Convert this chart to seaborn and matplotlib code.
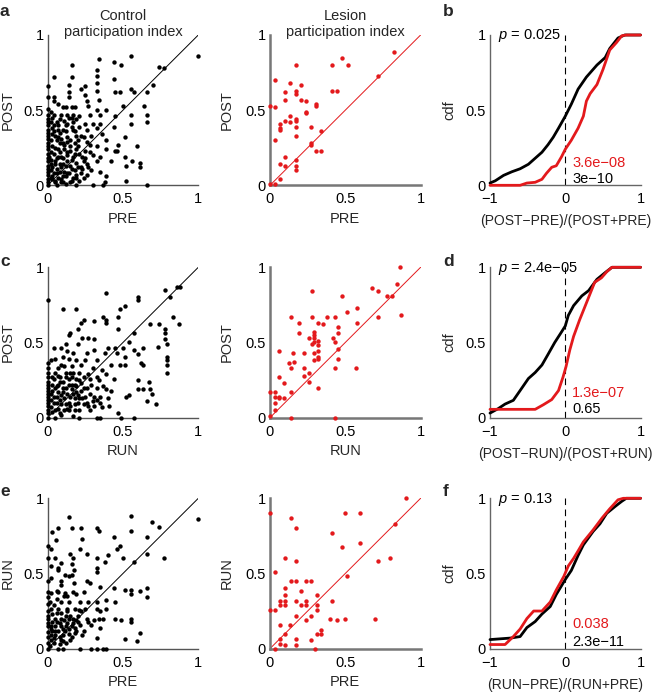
import numpy as np
import pandas as pd
import matplotlib
matplotlib.use("Agg")
import matplotlib.pyplot as plt
import seaborn as sns

# ---------------- data ----------------
# Row 1: PRE (x) vs POST (y)
ctrl_pre_post = [
    (1.00,0.86),(0.55,0.86),(0.34,0.84),(0.44,0.82),(0.49,0.80),(0.16,0.80),(0.74,0.79),(0.77,0.78),
    (0.33,0.77),(0.04,0.72),(0.16,0.72),(0.33,0.73),(0.44,0.71),(0.00,0.66),(0.14,0.67),(0.33,0.68),
    (0.70,0.67),(0.25,0.66),(0.22,0.64),(0.33,0.63),(0.45,0.62),(0.48,0.62),(0.55,0.64),(0.66,0.62),
    (0.14,0.62),(0.14,0.59),(0.04,0.59),(0.00,0.59),(0.57,0.62),(0.25,0.60),(0.04,0.56),(0.07,0.54),
    (0.26,0.56),(0.27,0.53),(0.34,0.57),(0.50,0.53),(0.64,0.53),(0.10,0.52),(0.00,0.51),(0.33,0.50),
    (0.55,0.47),(0.66,0.47),(0.66,0.42),(0.04,0.47),(0.12,0.52),(0.16,0.52),(0.18,0.52),(0.13,0.47),
    (0.17,0.47),(0.19,0.44),(0.08,0.44),(0.09,0.47),(0.21,0.46),(0.28,0.47),(0.35,0.47),(0.39,0.50),
    (0.45,0.46),(0.25,0.41),(0.30,0.41),(0.35,0.41),(0.55,0.41),(0.00,0.44),(0.00,0.40),(0.04,0.40),
    (0.07,0.40),(0.13,0.41),(0.16,0.39),(0.21,0.39),(0.10,0.37),(0.04,0.36),(0.18,0.36),(0.26,0.37),
    (0.33,0.38),(0.44,0.39),(0.36,0.34),(0.29,0.33),(0.24,0.32),(0.13,0.32),(0.07,0.32),(0.00,0.33),
    (0.51,0.32),(0.20,0.30),(0.26,0.29),(0.39,0.30),(0.10,0.28),(0.15,0.26),(0.00,0.28),(0.03,0.26),
    (0.07,0.24),(0.19,0.24),(0.33,0.26),(0.39,0.24),(0.59,0.26),(0.47,0.27),(0.45,0.23),(0.46,0.23),
    (0.28,0.22),(0.21,0.21),(0.13,0.22),(0.04,0.21),(0.00,0.21),(0.09,0.19),(0.17,0.19),(0.25,0.18),
    (0.35,0.19),(0.51,0.19),(0.42,0.16),(0.33,0.16),(0.26,0.14),(0.19,0.15),(0.13,0.16),(0.05,0.16),
    (0.00,0.16),(0.56,0.16),(0.61,0.15),(0.61,0.12),(0.52,0.13),(0.35,0.09),(0.29,0.10),(0.23,0.11),
    (0.16,0.11),(0.09,0.12),(0.03,0.12),(0.00,0.11),(0.06,0.08),(0.13,0.08),(0.19,0.07),(0.26,0.07),
    (0.39,0.06),(0.00,0.07),(0.03,0.06),(0.09,0.04),(0.16,0.03),(0.21,0.03),(0.52,0.03),(0.38,0.02),
    (0.00,0.02),(0.05,0.02),(0.12,0.01),(0.19,0.00),(0.30,0.00),(0.37,0.00),(0.66,0.00),(0.06,0.00),
    (0.00,0.00),(0.02,0.30),(0.05,0.33),(0.08,0.28),(0.11,0.24),(0.13,0.20),(0.06,0.18),(0.02,0.14),
    (0.10,0.14),(0.15,0.13),(0.18,0.10),(0.08,0.09),(0.04,0.08),(0.12,0.06),(0.07,0.05),(0.03,0.04),
    (0.17,0.05),(0.10,0.02),(0.22,0.12),(0.24,0.16),(0.20,0.26),(0.12,0.36),(0.06,0.42),(0.02,0.49),
    (0.00,0.37),(0.00,0.24),(0.01,0.19),(0.00,0.09),(0.00,0.13),(0.14,0.45),(0.17,0.42),(0.11,0.43),
    (0.08,0.35),(0.03,0.38),(0.15,0.30),(0.18,0.28),
    (0.00,0.04),(0.00,0.18),(0.00,0.26),(0.00,0.31),(0.00,0.35),(0.00,0.42),(0.00,0.47),
    (0.02,0.05),(0.02,0.10),(0.02,0.17),(0.02,0.22),(0.03,0.34),(0.02,0.42),(0.03,0.45),
    (0.05,0.03),(0.06,0.11),(0.05,0.14),(0.07,0.19),(0.05,0.25),(0.08,0.22),(0.06,0.30),(0.07,0.37),
    (0.08,0.14),(0.09,0.02),(0.11,0.09),(0.10,0.18),(0.12,0.13),(0.11,0.27),(0.09,0.31),(0.12,0.40),
    (0.10,0.06),(0.13,0.29),(0.15,0.02),(0.14,0.08),(0.16,0.17),(0.18,0.21),(0.15,0.23),(0.19,0.33),
    (0.17,0.37),(0.20,0.12),(0.19,0.05),(0.16,0.45),(0.22,0.08),(0.24,0.05),(0.23,0.19),(0.27,0.12),
    (0.28,0.27),(0.22,0.33),(0.30,0.20),(0.25,0.23),
]
les_pre_post = [
    (0.825,0.89),(0.48,0.85),(0.41,0.80),(0.52,0.80),(0.17,0.80),(0.72,0.73),(0.03,0.70),(0.135,0.68),
    (0.205,0.67),(0.17,0.63),(0.10,0.62),(0.41,0.63),(0.445,0.63),(0.17,0.61),(0.10,0.57),(0.205,0.57),
    (0.24,0.56),(0.305,0.54),(0.305,0.53),(0.0,0.53),(0.03,0.52),(0.24,0.49),(0.24,0.48),(0.135,0.46),
    (0.10,0.43),(0.17,0.44),(0.17,0.43),(0.135,0.42),(0.065,0.41),(0.065,0.38),(0.065,0.37),(0.17,0.39),
    (0.27,0.39),(0.34,0.36),(0.17,0.33),(0.03,0.30),(0.27,0.28),(0.27,0.27),(0.305,0.23),(0.34,0.23),
    (0.10,0.19),(0.17,0.17),(0.065,0.14),(0.10,0.13),(0.17,0.13),(0.17,0.10),(0.065,0.04),(0.0,0.01),
    (0.03,0.01),
]
# Row 2: RUN (x) vs POST (y)
ctrl_run_post = [
    (0.88,0.87),(0.86,0.87),(0.78,0.85),(0.81,0.80),(0.39,0.83),(0.60,0.80),(0.60,0.78),(0.00,0.78),
    (0.10,0.72),(0.19,0.72),(0.51,0.74),(0.48,0.72),(0.47,0.67),(0.37,0.67),(0.24,0.65),(0.22,0.63),
    (0.31,0.64),(0.39,0.65),(0.39,0.63),(0.83,0.67),(0.68,0.62),(0.74,0.62),(0.87,0.62),(0.78,0.59),
    (0.47,0.59),(0.20,0.59),(0.15,0.56),(0.14,0.55),(0.27,0.53),(0.57,0.56),(0.78,0.56),(0.78,0.52),
    (0.31,0.52),(0.12,0.49),(0.20,0.49),(0.23,0.53),(0.54,0.50),(0.79,0.49),(0.09,0.46),(0.04,0.46),
    (0.40,0.46),(0.45,0.46),(0.50,0.46),(0.63,0.46),(0.73,0.47),(0.57,0.45),(0.13,0.44),(0.17,0.43),
    (0.26,0.43),(0.31,0.45),(0.38,0.43),(0.46,0.43),(0.51,0.40),(0.60,0.42),(0.79,0.40),(0.79,0.38),
    (0.79,0.35),(0.79,0.30),(0.62,0.36),(0.63,0.35),(0.48,0.35),(0.51,0.35),(0.42,0.35),(0.02,0.38),
    (0.05,0.39),(0.19,0.38),(0.25,0.38),(0.33,0.38),(0.09,0.35),(0.16,0.34),(0.30,0.33),(0.36,0.32),
    (0.05,0.30),(0.12,0.30),(0.21,0.30),(0.27,0.29),(0.39,0.29),(0.00,0.30),(0.04,0.26),(0.08,0.27),
    (0.14,0.26),(0.19,0.26),(0.28,0.26),(0.34,0.25),(0.44,0.26),(0.60,0.25),(0.67,0.24),(0.00,0.24),
    (0.07,0.22),(0.16,0.22),(0.24,0.20),(0.33,0.20),(0.39,0.19),(0.60,0.19),(0.63,0.19),(0.68,0.19),
    (0.03,0.18),(0.10,0.17),(0.19,0.17),(0.28,0.16),(0.42,0.18),(0.69,0.16),(0.00,0.16),(0.06,0.14),
    (0.15,0.14),(0.21,0.13),(0.35,0.14),(0.54,0.15),(0.52,0.14),(0.66,0.11),(0.72,0.09),(0.04,0.10),
    (0.12,0.09),(0.18,0.09),(0.26,0.10),(0.31,0.08),(0.41,0.08),(0.00,0.08),(0.07,0.06),(0.14,0.05),
    (0.21,0.05),(0.28,0.05),(0.47,0.03),(0.03,0.04),(0.00,0.03),(0.09,0.02),(0.17,0.01),(0.33,0.00),
    (0.35,0.00),(0.49,0.00),(0.57,0.00),(0.21,0.00),(0.05,0.00),(0.00,0.00),(0.02,0.12),(0.05,0.20),
    (0.08,0.12),(0.10,0.24),(0.12,0.20),(0.14,0.10),(0.16,0.19),(0.18,0.22),(0.20,0.15),(0.22,0.23),
    (0.24,0.09),(0.26,0.20),(0.11,0.34),(0.07,0.28),(0.00,0.20),(0.00,0.12),(0.00,0.36),(0.13,0.06),
    (0.09,0.15),(0.15,0.30),(0.18,0.13),(0.03,0.22),(0.22,0.35),(0.30,0.11),(0.33,0.12),(0.37,0.21),
    (0.36,0.07),(0.40,0.13),
    (0.00,0.05),(0.00,0.10),(0.00,0.14),(0.00,0.18),(0.00,0.22),(0.00,0.27),(0.00,0.33),(0.02,0.07),
    (0.02,0.16),(0.03,0.27),(0.04,0.14),(0.05,0.05),(0.06,0.10),(0.06,0.21),(0.07,0.17),(0.08,0.03),
    (0.08,0.24),(0.09,0.09),(0.10,0.20),(0.11,0.13),(0.11,0.05),(0.12,0.27),(0.13,0.16),(0.14,0.22),
    (0.15,0.08),(0.16,0.27),(0.17,0.16),(0.18,0.05),(0.19,0.21),(0.20,0.10),(0.21,0.25),(0.22,0.18),
    (0.23,0.13),(0.24,0.27),(0.25,0.14),(0.27,0.08),(0.29,0.22),(0.31,0.14),(0.33,0.27),(0.35,0.10),
    (0.14,0.39),(0.10,0.40),(0.17,0.30),(0.07,0.33),
]
les_run_post = [
    (0.86,1.00),(0.84,0.89),(0.68,0.86),(0.715,0.84),(0.28,0.84),(0.48,0.81),(0.775,0.81),(0.81,0.81),
    (0.51,0.70),(0.58,0.73),(0.14,0.67),(0.28,0.67),(0.38,0.67),(0.43,0.67),(0.715,0.67),(0.87,0.68),
    (0.19,0.63),(0.32,0.63),(0.355,0.62),(0.58,0.63),(0.45,0.60),(0.19,0.56),(0.29,0.57),(0.29,0.55),
    (0.45,0.56),(0.26,0.53),(0.42,0.53),(0.29,0.53),(0.29,0.50),(0.28,0.49),(0.32,0.51),(0.43,0.50),
    (0.32,0.48),(0.06,0.44),(0.155,0.43),(0.225,0.43),(0.29,0.43),(0.32,0.44),(0.45,0.455),(0.16,0.37),
    (0.125,0.36),(0.32,0.40),(0.32,0.39),(0.29,0.38),(0.45,0.39),(0.14,0.33),(0.225,0.33),(0.43,0.33),
    (0.57,0.33),(0.225,0.28),(0.26,0.30),(0.26,0.24),(0.06,0.27),(0.095,0.23),(0.32,0.20),(0.0,0.17),
    (0.03,0.17),(0.14,0.17),(0.03,0.135),(0.06,0.14),(0.06,0.13),(0.095,0.13),(0.03,0.10),(0.03,0.05),
    (0.0,0.01),(0.14,0.0),(0.43,0.0),
]
# Row 3: PRE (x) vs RUN (y)
ctrl_pre_run = [
    (1.00,0.86),(0.55,0.885),(0.14,0.875),(0.695,0.84),(0.74,0.81),(0.07,0.80),(0.16,0.80),(0.22,0.80),
    (0.33,0.80),(0.34,0.78),(0.55,0.785),(0.03,0.775),(0.44,0.745),(0.66,0.74),(0.055,0.72),(0.225,0.73),
    (0.0,0.685),(0.48,0.685),(0.025,0.66),(0.215,0.66),(0.46,0.66),(0.15,0.63),(0.26,0.63),(0.40,0.625),
    (0.66,0.63),(0.0,0.60),(0.05,0.60),(0.17,0.60),(0.33,0.60),(0.50,0.60),(0.77,0.60),(0.09,0.57),
    (0.16,0.56),(0.38,0.575),(0.57,0.575),(0.07,0.535),(0.07,0.525),(0.175,0.525),(0.33,0.535),(0.33,0.51),
    (0.115,0.49),(0.14,0.48),(0.16,0.49),(0.025,0.47),(0.26,0.45),(0.28,0.435),(0.09,0.45),(0.175,0.435),
    (0.35,0.41),(0.44,0.40),(0.55,0.39),(0.51,0.39),(0.61,0.38),(0.66,0.40),(0.66,0.34),(0.55,0.36),
    (0.0,0.375),(0.025,0.37),(0.07,0.375),(0.115,0.37),(0.17,0.375),(0.24,0.375),(0.015,0.31),(0.09,0.31),
    (0.14,0.31),(0.215,0.31),(0.27,0.31),(0.33,0.31),(0.39,0.325),(0.45,0.31),(0.025,0.265),(0.07,0.265),
    (0.125,0.265),(0.18,0.265),(0.25,0.265),(0.33,0.265),(0.35,0.25),(0.39,0.265),(0.0,0.20),(0.05,0.20),
    (0.09,0.20),(0.14,0.20),(0.19,0.19),(0.26,0.20),(0.31,0.19),(0.37,0.20),(0.45,0.20),(0.49,0.19),
    (0.55,0.20),(0.55,0.18),(0.0,0.15),(0.025,0.15),(0.09,0.15),(0.16,0.15),(0.215,0.155),(0.29,0.155),
    (0.35,0.14),(0.05,0.115),(0.115,0.115),(0.18,0.105),(0.24,0.12),(0.33,0.07),(0.61,0.105),(0.51,0.065),
    (0.595,0.05),(0.0,0.08),(0.04,0.07),(0.09,0.06),(0.15,0.06),(0.015,0.02),(0.07,0.0),(0.10,0.0),
    (0.215,0.0),(0.29,0.0),(0.33,0.0),(0.37,0.0),(0.39,0.0),(0.0,0.0),(0.03,0.12),(0.06,0.18),
    (0.10,0.13),(0.12,0.22),(0.08,0.08),(0.04,0.04),(0.13,0.17),(0.17,0.20),(0.20,0.22),(0.22,0.25),
    (0.11,0.35),(0.06,0.33),(0.0,0.25),(0.0,0.30),(0.02,0.09),(0.14,0.10),(0.18,0.14),(0.10,0.05),
    (0.27,0.18),(0.23,0.09),(0.34,0.20),
    (0.0,0.04),(0.0,0.11),(0.0,0.17),(0.0,0.22),(0.0,0.34),(0.0,0.45),(0.02,0.06),(0.02,0.13),
    (0.03,0.18),(0.03,0.23),(0.04,0.29),(0.05,0.09),(0.05,0.15),(0.06,0.24),(0.07,0.12),(0.08,0.03),
    (0.08,0.17),(0.09,0.24),(0.10,0.09),(0.11,0.19),(0.12,0.15),(0.12,0.04),(0.13,0.25),(0.14,0.13),
    (0.15,0.22),(0.16,0.08),(0.17,0.17),(0.19,0.12),(0.20,0.18),(0.21,0.26),(0.06,0.38),(0.09,0.42),
    (0.13,0.35),(0.19,0.36),(0.02,0.55),
]
les_pre_run = [
    (0.90,1.00),(0.0,0.90),(0.50,0.90),(0.60,0.90),(0.14,0.87),(0.83,0.83),(0.17,0.805),(0.41,0.77),
    (0.48,0.675),(0.60,0.70),(0.10,0.60),(0.80,0.60),(0.72,0.58),(0.17,0.58),(0.03,0.51),(0.51,0.48),
    (0.14,0.45),(0.17,0.45),(0.24,0.45),(0.27,0.45),(0.10,0.40),(0.205,0.385),(0.31,0.355),(0.10,0.355),
    (0.10,0.32),(0.065,0.32),(0.17,0.32),(0.24,0.32),(0.41,0.32),(0.065,0.29),(0.10,0.29),(0.205,0.29),
    (0.24,0.29),(0.31,0.29),(0.0,0.26),(0.03,0.26),(0.31,0.255),(0.17,0.22),(0.27,0.22),(0.24,0.19),
    (0.40,0.195),(0.445,0.19),(0.50,0.195),(0.70,0.195),(0.065,0.16),(0.135,0.16),(0.34,0.125),(0.31,0.10),
    (0.34,0.095),(0.10,0.095),(0.065,0.065),(0.17,0.065),(0.27,0.06),(0.065,0.03),(0.10,0.027),(0.17,0.027),
    (0.03,0.0),(0.30,0.0),
]

# CDF curves (vertices)
cdf_b_ctrl = [(-1,0.015),(-0.93,0.03),(-0.82,0.066),(-0.71,0.09),(-0.60,0.11),(-0.49,0.14),(-0.40,0.18),
              (-0.31,0.22),(-0.23,0.27),(-0.16,0.32),(-0.09,0.38),(0.0,0.46),(0.08,0.54),(0.17,0.64),
              (0.28,0.72),(0.42,0.80),(0.53,0.85),(0.59,0.91),(0.70,0.98),(0.79,1.0),(1.0,1.0)]
cdf_b_les = [(-1,0.0),(-0.60,0.0),(-0.51,0.015),(-0.40,0.02),(-0.31,0.04),(-0.25,0.08),(-0.18,0.12),
             (-0.12,0.13),(-0.05,0.19),(0.0,0.24),(0.08,0.30),(0.17,0.38),(0.24,0.46),(0.28,0.56),
             (0.33,0.61),(0.42,0.67),(0.50,0.77),(0.59,0.90),(0.68,0.95),(0.75,0.995),(0.81,1.0),(1.0,1.0)]
cdf_d_ctrl = [(-1,0.03),(-0.89,0.06),(-0.80,0.09),(-0.69,0.115),(-0.60,0.18),(-0.49,0.26),(-0.40,0.30),
              (-0.31,0.35),(-0.23,0.42),(-0.14,0.50),(-0.05,0.57),(0.0,0.61),(0.04,0.68),(0.11,0.745),
              (0.22,0.81),(0.31,0.845),(0.42,0.92),(0.53,0.965),(0.62,1.0),(1.0,1.0)]
cdf_d_les = [(-1,0.055),(-0.40,0.055),(-0.29,0.086),(-0.18,0.12),(-0.09,0.18),(-0.03,0.27),(0.01,0.34),
             (0.06,0.45),(0.11,0.54),(0.19,0.65),(0.31,0.80),(0.39,0.90),(0.48,0.93),(0.55,0.97),
             (0.62,1.0),(1.0,1.0)]
cdf_f_ctrl = [(-1,0.06),(-0.73,0.07),(-0.60,0.08),(-0.51,0.14),(-0.40,0.18),(-0.31,0.23),(-0.20,0.28),
              (-0.12,0.36),(0.0,0.46),(0.08,0.52),(0.17,0.62),(0.24,0.69),(0.37,0.78),(0.46,0.83),
              (0.55,0.90),(0.66,0.945),(0.75,0.98),(0.81,1.0),(1.0,1.0)]
cdf_f_les = [(-1,0.027),(-0.80,0.027),(-0.69,0.08),(-0.60,0.13),(-0.51,0.20),(-0.42,0.25),(-0.31,0.25),
             (-0.20,0.31),(-0.12,0.39),(-0.02,0.48),(0.04,0.55),(0.11,0.60),(0.17,0.65),(0.24,0.71),
             (0.37,0.79),(0.49,0.87),(0.59,0.93),(0.70,0.99),(0.77,1.0),(1.0,1.0)]

p_texts = ["p = 0.025", "p = 2.4e\u221205", "p = 0.13"]
les_pvals = ["3.6e\u221208", "1.3e\u221207", "0.038"]
ctrl_pvals = ["3e\u221210", "0.65", "2.3e\u221211"]
scatter_xlabels = ["PRE", "RUN", "PRE"]
scatter_ylabels = ["POST", "POST", "RUN"]
cdf_xlabels = ["(POST\u2212PRE)/(POST+PRE)", "(POST\u2212RUN)/(POST+RUN)", "(RUN\u2212PRE)/(RUN+PRE)"]
panel_letters = ["a", "b", "c", "d", "e", "f"]

# ---------------- style ----------------
sns.set_theme(style="white")
plt.rcParams['font.family'] = ['Liberation Sans', 'DejaVu Sans']
plt.rcParams['mathtext.fontset'] = 'custom'
plt.rcParams['mathtext.it'] = 'Liberation Sans:italic'
plt.rcParams['mathtext.rm'] = 'Liberation Sans'

RED = '#e3191c'
FS = 10.5

W, H = 655, 692
fig = plt.figure(figsize=(W / 100, H / 100), dpi=100)

col_left = [47.7, 270.0, 490.0]
row_top = [35.0, 267.3, 498.3]
aw, ah = 150.6, 150.3

def make_ax(r, c):
    l = col_left[c] / W
    b = 1 - (row_top[r] + ah) / H
    return fig.add_axes([l, b, aw / W, ah / H])

def style_ax(ax, xt, xtl, lw=1.0, sc='#555555'):
    for s in ['top', 'right']:
        ax.spines[s].set_visible(False)
    for s in ['left', 'bottom']:
        ax.spines[s].set_color(sc)
        ax.spines[s].set_linewidth(lw)
    ax.set_xticks(xt)
    ax.set_xticklabels(xtl)
    ax.set_yticks([0, 0.5, 1])
    ax.set_yticklabels(["0", "0.5", "1"])
    ax.tick_params(axis='both', direction='in', length=2.5, width=0.8, color=sc,
                   labelsize=FS, labelcolor='black', pad=3)
    ax.tick_params(axis='x', pad=5)

scatter_sets = [(ctrl_pre_post, les_pre_post), (ctrl_run_post, les_run_post), (ctrl_pre_run, les_pre_run)]
cdf_sets = [(cdf_b_ctrl, cdf_b_les), (cdf_d_ctrl, cdf_d_les), (cdf_f_ctrl, cdf_f_les)]

for r in range(3):
    # scatter panels
    for c, (pts, color, lw, sc) in enumerate([(scatter_sets[r][0], 'black', 1.0, '#555555'),
                                              (scatter_sets[r][1], RED, 1.8, '#777777')]):
        ax = make_ax(r, c)
        df = pd.DataFrame(pts, columns=['x', 'y'])
        ax.axline((0, 0), slope=1, color=color, lw=0.7, zorder=1)
        sns.scatterplot(data=df, x='x', y='y', ax=ax, color=color, s=10, linewidth=0,
                        clip_on=False, zorder=3, legend=False)
        ax.set_xlim(0, 1)
        ax.set_ylim(0, 1)
        style_ax(ax, [0, 0.5, 1], ["0", "0.5", "1"], lw=lw, sc=sc)
        ax.set_xlabel(scatter_xlabels[r], fontsize=FS)
        ax.set_ylabel(scatter_ylabels[r], fontsize=FS)
        ax.xaxis.set_label_coords(0.5, -0.225)
        ax.xaxis.label.set_va('center')
        ax.yaxis.set_label_coords(-0.267 if c == 0 else -0.285, 0.5)
        ax.yaxis.label.set_va('center')
    # cdf panel
    ax = make_ax(r, 2)
    ctrl, les = cdf_sets[r]
    dfc = pd.DataFrame(ctrl, columns=['x', 'y'])
    dfl = pd.DataFrame(les, columns=['x', 'y'])
    ax.axvline(0, color='black', lw=0.8, ls=(0, (6, 4)), zorder=1)
    sns.lineplot(data=dfc, x='x', y='y', ax=ax, color='black', lw=2.0, sort=False,
                 estimator=None, clip_on=False, zorder=3)
    sns.lineplot(data=dfl, x='x', y='y', ax=ax, color=RED, lw=2.0, sort=False,
                 estimator=None, clip_on=False, zorder=4)
    ax.set_xlim(-1, 1)
    ax.set_ylim(0, 1)
    style_ax(ax, [-1, 0, 1], ["\u22121", "0", "1"], sc='#666666')
    ax.set_xlabel(cdf_xlabels[r], fontsize=10)
    ax.set_ylabel("cdf", fontsize=FS)
    ax.xaxis.set_label_coords(0.5, -0.24)
    ax.xaxis.label.set_va('center')
    ax.yaxis.set_label_coords(-0.27, 0.5)
    ax.yaxis.label.set_va('center')
    pt = p_texts[r].replace("p", "$p$", 1)
    ax.text(-0.9, 0.995, pt, fontsize=FS, ha='left', va='center', color='black')
    ly = [0.15, 0.166, 0.164][r]
    cy = [0.04, 0.06, 0.042][r]
    ax.text(0.093, ly, les_pvals[r], fontsize=FS, color=RED, ha='left', va='center')
    ax.text(0.093, cy, ctrl_pvals[r], fontsize=FS, color='black', ha='left', va='center')

# column titles
fig.text(123 / W, 1 - 24 / H, "Control\nparticipation index", ha='center', va='center',
         fontsize=FS, linespacing=1.15)
fig.text(345 / W, 1 - 24 / H, "Lesion\nparticipation index", ha='center', va='center',
         fontsize=FS, linespacing=1.15)

# panel letters
letter_pos = [(0, 11), (443, 11), (0, 262), (443, 261), (0, 492), (443, 492)]
for lt, (px, py) in zip(panel_letters, letter_pos):
    fig.text(px / W, 1 - py / H, lt, fontsize=12.5, fontweight='bold', ha='left', va='center')

fig.savefig("out.png", dpi=100)
